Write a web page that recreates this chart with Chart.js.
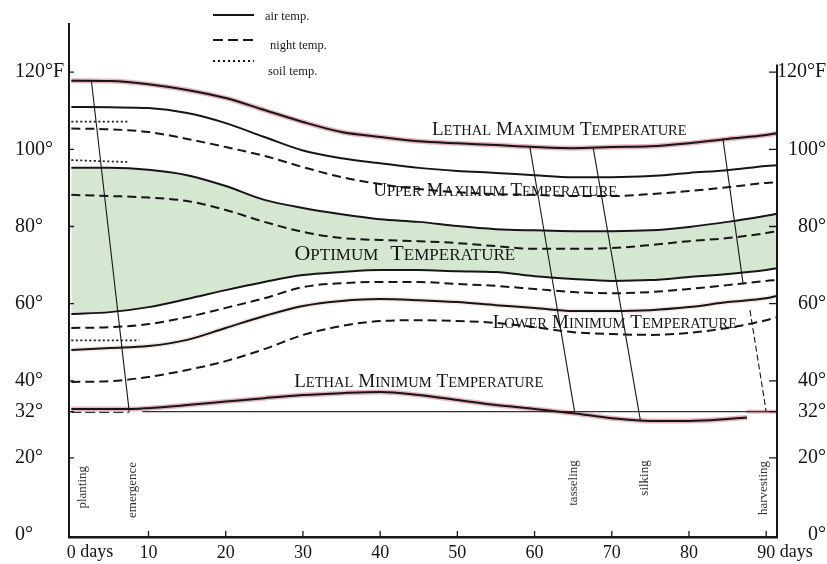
<!DOCTYPE html>
<html>
<head>
<meta charset="utf-8">
<script src="https://cdn.jsdelivr.net/npm/chart.js@4.4.1/dist/chart.umd.min.js"></script>
<style>
  html, body { margin: 0; padding: 0; background: #fff; }
  #wrap { width: 827px; height: 564px; }
</style>
</head>
<body>
<div id="wrap"><canvas id="tempChart"></canvas></div>
<script>
// days after planting
const days = [0, 5, 10, 15, 20, 25, 30, 35, 40, 45, 50, 55, 60, 65, 70, 75, 80, 85, 90, 91.4];

// temperatures in degrees F
const lethalMax     = [117.8, 117.7, 116.9, 115.4, 113.3, 110.2, 107.1, 104.5, 103.2, 102.1, 101.6, 101.1, 100.6, 100.3, 100.6, 100.8, 101.6, 102.7, 103.7, 104.2];
const upperMaxAir   = [111.0, 110.9, 110.7, 109.4, 106.8, 103.2, 99.7, 97.7, 96.4, 95.2, 94.4, 93.9, 93.3, 92.8, 92.8, 93.1, 93.9, 94.6, 95.7, 95.9];
const upperMaxNight = [105.4, 105.2, 104.5, 102.7, 100.6, 98.3, 95.4, 92.8, 91.0, 89.7, 88.9, 88.4, 88.2, 87.9, 87.9, 88.4, 89.2, 90.2, 91.3, 91.5];
const optHighAir    = [95.2, 95.2, 94.7, 93.3, 90.5, 86.9, 84.8, 83.2, 81.9, 81.2, 80.1, 79.3, 79.0, 78.8, 78.8, 79.0, 79.9, 81.2, 82.8, 83.3];
const optNight      = [88.2, 87.9, 87.5, 86.6, 84.3, 81.2, 78.6, 77.0, 76.5, 76.2, 75.7, 74.9, 74.2, 74.2, 74.4, 75.2, 76.2, 77.0, 78.3, 78.8];
const optLowAir     = [57.3, 57.8, 59.1, 61.2, 63.5, 65.6, 67.4, 68.2, 68.7, 68.7, 68.4, 68.2, 67.1, 66.4, 65.9, 66.1, 66.9, 67.7, 68.7, 69.2];
const optLowNight   = [53.7, 53.9, 54.7, 56.5, 58.9, 61.4, 64.3, 65.3, 65.6, 65.6, 65.1, 64.6, 63.8, 63.0, 62.7, 63.0, 63.8, 64.8, 65.9, 66.1];
const lowerMinAir   = [48.0, 48.5, 49.0, 50.6, 53.7, 56.8, 59.4, 60.7, 61.2, 60.9, 60.4, 59.6, 58.9, 58.1, 58.1, 58.3, 59.1, 60.4, 61.4, 62.0];
const lowerMinNight = [39.7, 39.9, 41.0, 42.8, 45.1, 48.2, 51.9, 54.2, 55.5, 55.7, 55.5, 55.0, 53.9, 52.6, 52.1, 51.9, 52.4, 53.7, 55.7, 56.5];

const lethalMinDays = [0, 5, 8, 10, 15, 20, 25, 30, 35, 40, 45, 50, 55, 60, 65, 70, 75, 80, 85, 87.5];
const lethalMin     = [32.7, 32.7, 32.7, 32.9, 33.7, 34.6, 35.5, 36.3, 36.8, 37.1, 36.3, 35.0, 33.7, 32.7, 31.6, 30.3, 29.6, 29.6, 30.1, 30.5];

// soil temperatures only shown at the start
const soilDays    = [0, 7.5];
const soilHigh    = [107.2, 107.2];
const soilMid     = [97.2, 96.7];
const soilLowDays = [0, 8.8];
const soilLow     = [50.5, 50.5];

// freezing line
const freezeDays  = [9.2, 91.4];
const freezeTemps = [32, 32];
const freezeStartDays = [0, 7.5];
const freezeStart = [31.8, 31.8];

// growth stage lines (day, temp) at both ends
const plantingDays = [2.6, 7.5],  plantingTemps = [117.8, 32];
const tasselDays   = [59.4, 65.2], tasselTemps   = [100.5, 31.8];
const silkDays     = [67.6, 73.7], silkTemps     = [100.3, 29.8];
const harvestDays  = [84.4, 87.0], harvestTemps  = [102.7, 65.3];
const harvest2Days = [87.9, 90.0], harvest2Temps = [58.3, 32];

const xTicks = [0, 10, 20, 30, 40, 50, 60, 70, 80, 90];
const yTicks = [0, 20, 32, 40, 60, 80, 100, 120];
const stageNames = ['planting', 'emergence', 'tasseling', 'silking', 'harvesting'];

const SERIF = "'Liberation Serif', 'Times New Roman', serif";
const INK = '#161616';
const PINK = 'rgba(226, 160, 172, 0.8)';
const GREEN = 'rgb(213, 230, 209)';

function pts(xs, ys) {
    return xs.map((d, i) => ({ x: d, y: ys[i] }));
}

function line(label, xs, ys, extra) {
    return Object.assign({
        label: label,
        data: pts(xs, ys),
        borderColor: INK,
        borderWidth: 2,
        pointRadius: 0,
        cubicInterpolationMode: 'monotone',
        fill: false,
        order: 0
    }, extra || {});
}

const dash = [9, 5];
const dots = [2, 2.5];

const datasets = [
    // 0 and 1 bound the green optimum band
    line('optimum high', days, optHighAir, { fill: 1, backgroundColor: GREEN, order: 6 }),
    line('optimum low', days, optLowAir, { order: 5 }),
    line('lethal max', days, lethalMax),
    line('upper max', days, upperMaxAir),
    line('upper max night', days, upperMaxNight, { borderDash: dash }),
    line('optimum night', days, optNight, { borderDash: dash }),
    line('optimum low night', days, optLowNight, { borderDash: dash }),
    line('lower min', days, lowerMinAir),
    line('lower min night', days, lowerMinNight, { borderDash: dash }),
    line('lethal min', lethalMinDays, lethalMin),
    line('soil high', soilDays, soilHigh, { borderDash: dots, borderWidth: 1.7 }),
    line('soil mid', soilDays, soilMid, { borderDash: dots, borderWidth: 1.7 }),
    line('soil low', soilLowDays, soilLow, { borderDash: dots, borderWidth: 1.7 }),
    line('freezing', freezeDays, freezeTemps, { borderWidth: 1.2, borderColor: '#333' }),
    line('freezing start', freezeStartDays, freezeStart, { borderWidth: 1.2, borderColor: '#333', borderDash: [10, 4] }),
    line('planting', plantingDays, plantingTemps, { borderWidth: 1.1 }),
    line('tasseling', tasselDays, tasselTemps, { borderWidth: 1.1 }),
    line('silking', silkDays, silkTemps, { borderWidth: 1.1 }),
    line('harvesting', harvestDays, harvestTemps, { borderWidth: 1.1 }),
    line('harvesting 2', harvest2Days, harvest2Temps, { borderWidth: 1.1, borderDash: [6, 3] }),
    // pink highlight under the lethal limits
    line('lethal max hl', days, lethalMax, { borderColor: PINK, borderWidth: 5, order: 10 }),
    line('lethal min hl', lethalMinDays, lethalMin, { borderColor: PINK, borderWidth: 5, order: 10 }),
    line('freeze hl', [87.5, 91.4], [32, 32], { borderColor: PINK, borderWidth: 4, order: 10 }),
    line('lower min hl', days, lowerMinAir, { borderColor: 'rgba(240, 205, 200, 0.5)', borderWidth: 5, order: 10 })
];

// first letter large, rest in smaller capitals
function smallCaps(ctx, text, cx, baseline, big, small, gap) {
    const words = text.split(' ');
    const parts = [];
    let total = 0;
    words.forEach((w, i) => {
        ctx.font = big + 'px ' + SERIF;
        const w1 = ctx.measureText(w[0]).width;
        ctx.font = small + 'px ' + SERIF;
        const w2 = ctx.measureText(w.slice(1).toUpperCase()).width;
        parts.push([w[0], w.slice(1).toUpperCase(), w1, w2]);
        total += w1 + w2 + (i ? gap : 0);
    });
    let x = cx - total / 2;
    ctx.textBaseline = 'alphabetic';
    ctx.textAlign = 'left';
    parts.forEach((p, i) => {
        if (i) x += gap;
        ctx.font = big + 'px ' + SERIF;
        ctx.fillText(p[0], x, baseline);
        x += p[2];
        ctx.font = small + 'px ' + SERIF;
        ctx.fillText(p[1], x, baseline);
        x += p[3];
    });
}

const overlay = {
    id: 'overlay',
    afterDraw(chart) {
        const ctx = chart.ctx;
        const x = chart.scales.x, y = chart.scales.y;
        const area = chart.chartArea;
        ctx.save();
        ctx.strokeStyle = INK;
        ctx.fillStyle = '#151515';

        // right axis line
        ctx.lineWidth = 2;
        ctx.beginPath();
        ctx.moveTo(area.right, y.getPixelForValue(122));
        ctx.lineTo(area.right, area.bottom);
        ctx.stroke();

        // tick marks
        ctx.lineWidth = 1.3;
        ctx.beginPath();
        xTicks.slice(1).forEach(v => {
            const px = x.getPixelForValue(v);
            ctx.moveTo(px, area.bottom);
            ctx.lineTo(px, area.bottom - 6);
        });
        yTicks.slice(1).forEach(v => {
            const py = y.getPixelForValue(v);
            ctx.moveTo(area.left, py);
            ctx.lineTo(area.left + 5, py);
            ctx.moveTo(area.right, py);
            ctx.lineTo(area.right - 8, py);
        });
        ctx.stroke();

        // "days" after the first and last tick
        ctx.font = '18px ' + SERIF;
        ctx.textBaseline = 'middle';
        ctx.textAlign = 'left';
        [0, 90].forEach(v => {
            const half = ctx.measureText(String(v)).width / 2;
            ctx.fillText(' days', x.getPixelForValue(v) + half, 552);
        });

        // zone labels
        ctx.fillStyle = '#151515';
        smallCaps(ctx, 'Lethal Maximum Temperature', x.getPixelForValue(63.2), y.getPixelForValue(103.6), 19, 14.5, 5);
        smallCaps(ctx, 'Upper Maximum Temperature', x.getPixelForValue(54.9), y.getPixelForValue(88), 19, 14.5, 5);
        smallCaps(ctx, 'Optimum Temperature', x.getPixelForValue(43.2), y.getPixelForValue(71.3), 22, 17, 12);
        smallCaps(ctx, 'Lower Minimum Temperature', x.getPixelForValue(70.4), y.getPixelForValue(53.6), 19, 14.5, 5);
        smallCaps(ctx, 'Lethal Minimum Temperature', x.getPixelForValue(45), y.getPixelForValue(38.4), 19, 14.5, 5);

        // growth stage labels, written upward
        const stagePos = [[1.5, 12.4], [7.9, 11.7], [65.0, 13.5], [74.3, 14.8], [89.6, 12.2]];
        ctx.font = '13px ' + SERIF;
        ctx.fillStyle = '#333';
        ctx.textAlign = 'center';
        ctx.textBaseline = 'middle';
        stageNames.forEach((name, i) => {
            ctx.save();
            ctx.translate(x.getPixelForValue(stagePos[i][0]), y.getPixelForValue(stagePos[i][1]));
            ctx.rotate(-Math.PI / 2);
            ctx.fillText(name, 0, 0);
            ctx.restore();
        });

        // legend
        ctx.strokeStyle = INK;
        ctx.lineWidth = 2;
        const legend = [[[], 15, 'air temp.', 265, 17], [[10, 5], 40, 'night temp.', 270, 46], [[2, 3], 61, 'soil temp.', 268, 72]];
        legend.forEach(l => {
            ctx.setLineDash(l[0]);
            ctx.beginPath();
            ctx.moveTo(213, l[1]);
            ctx.lineTo(254, l[1]);
            ctx.stroke();
        });
        ctx.setLineDash([]);
        ctx.font = '12.5px ' + SERIF;
        ctx.fillStyle = '#1a1a1a';
        ctx.textAlign = 'left';
        legend.forEach(l => ctx.fillText(l[2], l[3], l[4]));

        ctx.restore();
    }
};

const degLabel = v => v === 120 ? '120\u00b0F' : v + '\u00b0';

new Chart(document.getElementById('tempChart'), {
    type: 'line',
    data: { datasets: datasets },
    options: {
        responsive: true,
        maintainAspectRatio: false,
        animation: false,
        layout: { padding: { top: 24, left: 15, right: 1, bottom: 0 } },
        plugins: {
            legend: { display: false },
            tooltip: { enabled: false }
        },
        scales: {
            x: {
                type: 'linear',
                min: -0.3,
                max: 91.4,
                grid: { display: false, drawTicks: false },
                border: { display: true, color: INK, width: 2.5 },
                ticks: {
                    autoSkip: false,
                    maxRotation: 0,
                    padding: 5,
                    color: '#151515',
                    font: { family: SERIF, size: 18 },
                    callback: v => String(v)
                },
                afterBuildTicks: s => { s.ticks = xTicks.map(v => ({ value: v })); },
                afterFit: s => { s.height = 27; }
            },
            y: {
                position: 'left',
                min: -0.5,
                max: 132.5,
                grid: { display: false, drawTicks: false },
                border: { display: true, color: INK, width: 2 },
                ticks: {
                    autoSkip: false,
                    crossAlign: 'far',
                    color: '#151515',
                    font: { family: SERIF, size: 20 },
                    callback: degLabel
                },
                afterBuildTicks: s => { s.ticks = yTicks.map(v => ({ value: v })); },
                afterFit: s => { s.width = 54; }
            },
            y2: {
                position: 'right',
                min: -0.5,
                max: 132.5,
                grid: { display: false, drawTicks: false },
                border: { display: false },
                ticks: {
                    autoSkip: false,
                    crossAlign: 'far',
                    color: '#151515',
                    font: { family: SERIF, size: 20 },
                    callback: degLabel
                },
                afterBuildTicks: s => { s.ticks = yTicks.map(v => ({ value: v })); },
                afterFit: s => { s.width = 49; }
            }
        }
    },
    plugins: [overlay]
});
</script>
</body>
</html>
